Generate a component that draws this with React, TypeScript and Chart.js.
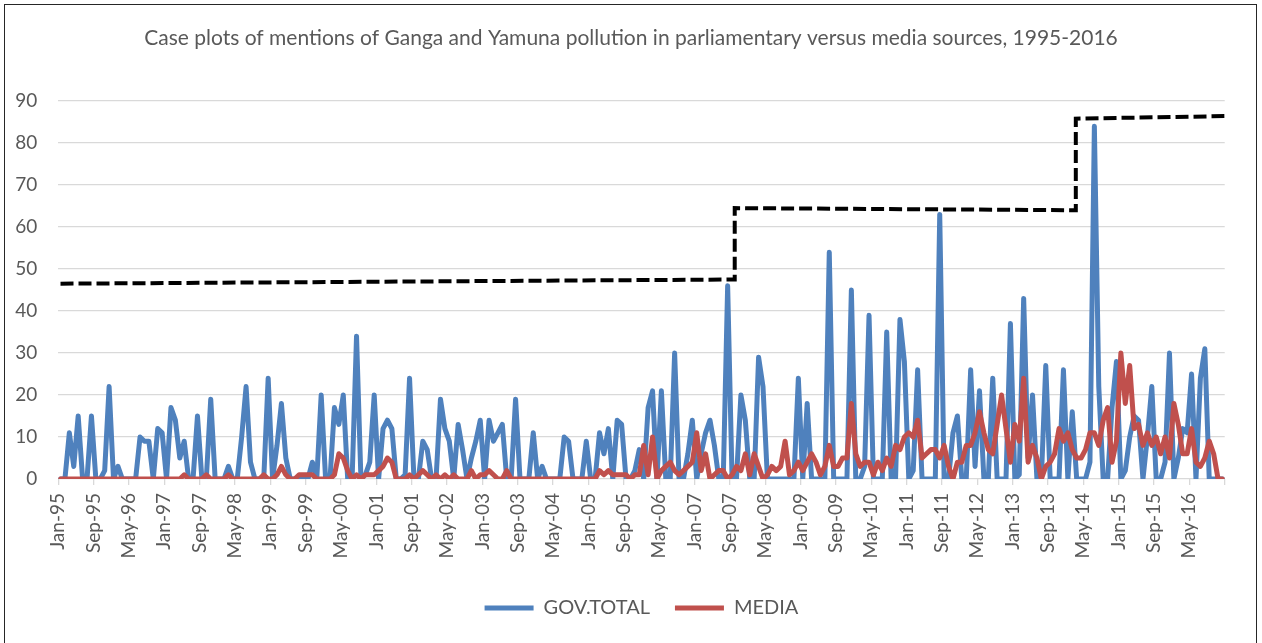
import React, { useEffect, useRef } from 'react';
import { Chart, registerables } from 'chart.js';

Chart.register(...registerables);

const TITLE =
  'Case plots of mentions of Ganga and Yamuna pollution in parliamentary versus media sources, 1995-2016';

// x-axis tick labels (one every 8 months, starting Jan-95)
const tickLabels = [
  'Jan-95', 'Sep-95', 'May-96', 'Jan-97', 'Sep-97', 'May-98', 'Jan-99', 'Sep-99', 'May-00',
  'Jan-01', 'Sep-01', 'May-02', 'Jan-03', 'Sep-03', 'May-04', 'Jan-05', 'Sep-05', 'May-06',
  'Jan-07', 'Sep-07', 'May-08', 'Jan-09', 'Sep-09', 'May-10', 'Jan-11', 'Sep-11', 'May-12',
  'Jan-13', 'Sep-13', 'May-14', 'Jan-15', 'Sep-15', 'May-16',
];

// monthly values, Jan-95 .. Dec-16
const govTotal = [
  0, 0, 11, 3, 15, 0, 0, 15, 0, 0, 2, 22,
  0, 3, 0, 0, 0, 0, 10, 9, 9, 0, 12, 11,
  0, 17, 14, 5, 9, 0, 0, 15, 0, 0, 19, 0,
  0, 0, 3, 0, 0, 10, 22, 4, 0, 0, 0, 24,
  0, 8, 18, 5, 0, 0, 0, 0, 0, 4, 0, 20,
  0, 0, 17, 13, 20, 0, 0, 34, 0, 1, 4, 20,
  0, 12, 14, 12, 0, 0, 1, 24, 0, 0, 9, 7,
  0, 0, 19, 12, 9, 0, 13, 7, 0, 5, 9, 14,
  0, 14, 9, 11, 13, 0, 0, 19, 0, 0, 0, 11,
  0, 3, 0, 0, 0, 0, 10, 9, 0, 0, 0, 9,
  0, 0, 11, 6, 12, 0, 14, 13, 0, 0, 2, 7,
  0, 17, 21, 0, 21, 0, 0, 30, 0, 0, 6, 14,
  0, 6, 11, 14, 8, 0, 0, 46, 0, 0, 20, 14,
  0, 0, 29, 22, 0, 0, 0, 0, 0, 0, 0, 24,
  0, 18, 0, 0, 0, 0, 54, 0, 0, 0, 0, 45,
  0, 0, 3, 39, 0, 0, 0, 35, 0, 0, 38, 28,
  0, 2, 26, 0, 0, 0, 0, 63, 0, 0, 11, 15,
  0, 0, 26, 3, 21, 0, 0, 24, 0, 0, 0, 37,
  0, 1, 43, 5, 20, 0, 0, 27, 0, 0, 0, 26,
  0, 16, 0, 0, 0, 4, 84, 22, 0, 0, 17, 28,
  0, 2, 10, 15, 14, 0, 10, 22, 0, 0, 4, 30,
  0, 5, 12, 11, 25, 0, 24, 31, 0, 0, 0, 0,
];

const media = [
  0, 0, 0, 0, 0, 0, 0, 0, 0, 0, 0, 0,
  0, 0, 0, 0, 0, 0, 0, 0, 0, 0, 0, 0,
  0, 0, 0, 0, 1, 0, 0, 0, 0, 1, 0, 0,
  0, 0, 1, 0, 0, 0, 0, 0, 0, 0, 1, 0,
  0, 1, 3, 1, 0, 0, 1, 1, 1, 1, 0, 0,
  0, 0, 1, 6, 5, 2, 0, 1, 0, 1, 1, 1,
  2, 3, 5, 4, 0, 0, 0, 1, 0, 1, 2, 1,
  0, 1, 0, 1, 0, 1, 0, 0, 0, 2, 0, 1,
  1, 2, 1, 0, 0, 2, 0, 0, 0, 0, 0, 0,
  0, 0, 0, 0, 0, 0, 0, 0, 0, 0, 0, 0,
  0, 0, 2, 1, 2, 1, 1, 1, 1, 0, 1, 1,
  8, 1, 10, 0, 2, 3, 4, 2, 1, 2, 3, 4,
  11, 2, 6, 0, 1, 2, 2, 0, 1, 3, 2, 6,
  1, 6, 3, 0, 1, 3, 2, 3, 9, 1, 2, 4,
  2, 4, 6, 4, 1, 3, 8, 3, 3, 5, 5, 18,
  6, 3, 4, 4, 1, 4, 2, 5, 3, 8, 7, 10,
  11, 10, 14, 5, 6, 7, 7, 5, 8, 3, 0, 4,
  4, 8, 8, 11, 16, 11, 7, 6, 13, 20, 12, 4,
  13, 9, 24, 4, 8, 5, 0, 3, 4, 6, 12, 9,
  11, 7, 5, 5, 7, 11, 11, 8, 14, 17, 4, 9,
  30, 18, 27, 12, 13, 8, 11, 8, 10, 6, 10, 5,
  18, 13, 6, 6, 12, 4, 3, 5, 9, 6, 0, 0,
];

// dashed step line: month index of each corner and its level
const levelMonths = [0, 152.6, 152.6, 229.8, 229.8, 263.5];
const levelValues = [46.5, 47.5, 64.5, 64, 85.8, 86.4];

const FONT = "Lato, 'Open Sans', sans-serif";
const TEXT = '#595959';
const GRID = '#d9d9d9';
const BLUE = '#4f81bd';
const RED = '#c0504d';

export default function App() {
  const ref = useRef<HTMLCanvasElement>(null);

  useEffect(() => {
    const tickValues = tickLabels.map((_, k) => k * 8 - 0.5).concat([govTotal.length - 0.5]);
    const chart = new Chart(ref.current as HTMLCanvasElement, {
      type: 'line',
      data: {
        datasets: [
          {
            label: 'GOV.TOTAL',
            data: govTotal.map((v, i) => ({ x: i, y: v })),
            borderColor: BLUE,
            backgroundColor: BLUE,
            borderWidth: 5,
            pointRadius: 0,
            pointStyle: 'line',
            borderJoinStyle: 'round',
            borderCapStyle: 'round',
            tension: 0,
            order: 3,
          },
          {
            label: 'MEDIA',
            data: media.map((v, i) => ({ x: i, y: v })),
            borderColor: RED,
            backgroundColor: RED,
            borderWidth: 5,
            pointRadius: 0,
            pointStyle: 'line',
            borderJoinStyle: 'round',
            borderCapStyle: 'round',
            tension: 0,
            order: 2,
          },
          {
            label: 'level',
            data: levelMonths.map((x, k) => ({ x, y: levelValues[k] })),
            borderColor: '#000000',
            backgroundColor: '#000000',
            borderWidth: 4,
            borderDash: [13, 5],
            pointRadius: 0,
            tension: 0,
            order: 1,
          },
        ],
      },
      options: {
        responsive: false,
        animation: false,
        events: [],
        layout: { padding: { left: 0, right: 0, top: 0, bottom: 15 } },
        plugins: {
          tooltip: { enabled: false },
          title: {
            display: true,
            text: TITLE,
            color: TEXT,
            font: { family: FONT, size: 21, weight: 'normal' },
            padding: { top: 26, bottom: 49.8 },
          },
          legend: {
            position: 'bottom',
            fullSize: false,
            labels: {
              usePointStyle: true,
              pointStyleWidth: 49,
              padding: 25,
              color: TEXT,
              font: { family: FONT, size: 20 },
              filter: (item: any) => item.datasetIndex !== 2,
              sort: (a: any, b: any) => a.datasetIndex - b.datasetIndex,
            },
          },
        },
        scales: {
          x: {
            type: 'linear',
            min: -0.5,
            max: govTotal.length - 0.5,
            afterBuildTicks: (scale: any) => {
              scale.ticks = tickValues.map((v) => ({ value: v }));
            },
            afterFit: (scale: any) => {
              scale.height = 94;
              scale.paddingRight = 37.3;
            },
            ticks: {
              autoSkip: false,
              minRotation: 90,
              maxRotation: 90,
              padding: 8,
              color: TEXT,
              font: { family: FONT, size: 19 },
              callback: (_v: any, idx: number) => tickLabels[idx] ?? '',
            },
            grid: {
              drawOnChartArea: false,
              drawTicks: true,
              tickLength: 6,
              color: GRID,
              lineWidth: 1.3,
            },
            border: { display: false },
          },
          y: {
            min: 0,
            max: 90,
            afterFit: (scale: any) => {
              scale.width = 58.3;
            },
            ticks: {
              stepSize: 10,
              padding: 21,
              color: TEXT,
              font: { family: FONT, size: 19 },
            },
            grid: { color: GRID, lineWidth: 1.3, drawTicks: false },
            border: { display: false },
          },
        },
      },
    } as any);
    return () => chart.destroy();
  }, []);

  return (
    <div style={{ position: 'fixed', left: 0, top: 0, width: 1262, height: 643, background: '#ffffff', overflow: 'hidden' }}>
      <div
        style={{
          position: 'absolute',
          left: 4,
          top: 4,
          width: 1253,
          height: 660,
          border: '1.5px solid #262626',
          boxSizing: 'border-box',
        }}
      />
      <canvas ref={ref} width={1262} height={643} style={{ position: 'absolute', left: 0, top: 0 }} />
    </div>
  );
}
